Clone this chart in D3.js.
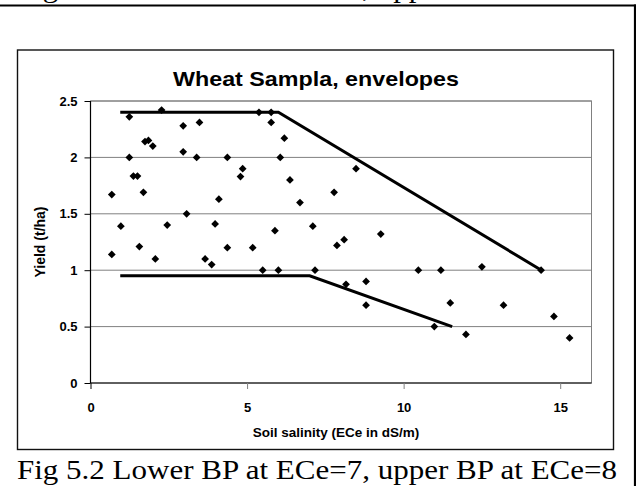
<!DOCTYPE html>
<html><head><meta charset="utf-8">
<script src="https://cdn.jsdelivr.net/npm/d3@7"></script>
<style>html,body{margin:0;padding:0;background:#fff;}svg{display:block;}</style>
</head><body>
<svg id="c" width="636" height="486"></svg>
<script>
// ---- data ----
const chartTitle = "Wheat Sampla, envelopes";
const xTitle = "Soil salinity (ECe in dS/m)";
const yTitle = "Yield (t/ha)";
const caption = "Fig 5.2 Lower BP at ECe=7, upper BP at ECe=8";
const prevCaption = "Fig 5.1 Lower BP at ECe=6, upper BP at ECe=8";
const xTicks = [0, 5, 10, 15];
const yTicks = [0, 0.5, 1, 1.5, 2, 2.5];
const yTickLabels = ["0", "0.5", "1", "1.5", "2", "2.5"];
const sampleX = [0.68,1.24,1.24,1.37,1.50,1.69,1.74,1.85,1.99,2.27,2.96,2.96,3.07,3.39,3.48,4.10,4.37,4.79,4.86,5.38,5.77,5.77,6.19,6.06,6.37,6.69,7.78,8.48,
  0.68,0.97,1.56,2.07,2.45,3.66,3.87,3.98,4.37,5.18,5.50,5.89,6.00,7.10,7.17,7.87,8.10,9.27,8.16,8.80,8.80,10.47,11.19,12.50,11.49,10.98,11.99,13.19,14.39,14.80,15.30];
const sampleY = [1.67,2.36,2.00,1.835,1.835,1.69,2.14,2.15,2.10,2.42,2.28,2.05,1.50,2.00,2.31,1.63,2.00,1.83,1.90,2.40,2.40,2.31,2.17,2.00,1.80,1.60,1.69,1.90,
  1.14,1.39,1.21,1.10,1.40,1.10,1.05,1.41,1.20,1.20,1.00,1.35,1.00,1.39,1.00,1.22,1.27,1.32,0.875,0.90,0.69,1.00,1.00,1.03,0.71,0.50,0.43,0.69,1.00,0.59,0.40];
const upperEnvX = [0.95, 6.0, 14.4];
const upperEnvY = [2.4, 2.4, 1.0];
const lowerEnvX = [0.95, 7.0, 11.55];
const lowerEnvY = [0.95, 0.95, 0.5];

// ---- drawing ----
const svg = d3.select("#c");
const x = d3.scaleLinear().domain([0, 16]).range([90.5, 591.5]);
const y = d3.scaleLinear().domain([0, 2.5]).range([383, 101]);
const sans = "'Liberation Sans', Arial, sans-serif";
const serif = "'Liberation Serif', 'Times New Roman', serif";

// page frame fragments
svg.append("line").attr("x1", 0).attr("x2", 636).attr("y1", 5.5).attr("y2", 5.5)
  .attr("stroke", "#000").attr("stroke-width", 2.2);
svg.append("line").attr("x1", 635).attr("x2", 635).attr("y1", 4.5).attr("y2", 486)
  .attr("stroke", "#000").attr("stroke-width", 2.2);
svg.append("text").attr("x", 17).attr("y", -3).attr("font-family", serif)
  .attr("font-size", 28).attr("textLength", 600).attr("lengthAdjust", "spacingAndGlyphs")
  .text(prevCaption);

// chart box
svg.append("rect").attr("x", 17.5).attr("y", 50).attr("width", 596).attr("height", 399.5)
  .attr("fill", "#fff").attr("stroke", "#111").attr("stroke-width", 1.4);

// title
svg.append("text").attr("x", 316).attr("y", 86).attr("text-anchor", "middle")
  .attr("font-family", sans).attr("font-weight", "bold").attr("font-size", 21)
  .attr("textLength", 286).attr("lengthAdjust", "spacingAndGlyphs")
  .text(chartTitle);

// plot area border (gray)
svg.append("rect").attr("x", x(0)).attr("y", y(2.5)).attr("width", x(16) - x(0)).attr("height", y(0) - y(2.5))
  .attr("fill", "none").attr("stroke", "#808080").attr("stroke-width", 1);

// gridlines
svg.append("g").selectAll("line").data(yTicks.filter(d => d > 0)).join("line")
  .attr("x1", x(0)).attr("x2", x(16)).attr("y1", d => y(d)).attr("y2", d => y(d))
  .attr("stroke", "#808080").attr("stroke-width", 1);

// axes
const yAxis = d3.axisLeft(y).tickValues(yTicks).tickSize(6).tickPadding(7)
  .tickFormat((d, i) => yTickLabels[i]);
const gy = svg.append("g").attr("transform", `translate(${x(0)},0)`).call(yAxis);
const xAxis = d3.axisBottom(x).tickValues(xTicks).tickSize(6).tickPadding(14);
const gx = svg.append("g").attr("transform", `translate(0,${y(0)})`).call(xAxis);
[gx, gy].forEach(g => {
  g.select(".domain").attr("stroke", "#000").attr("stroke-width", 1.2);
  g.selectAll(".tick line").attr("stroke", "#000").attr("stroke-width", 1);
  g.selectAll(".tick text").attr("font-family", sans).attr("font-weight", "bold")
    .attr("font-size", 13).attr("fill", "#000");
});
gx.select(".domain").attr("d", `M${x(0)},0H${x(16)}`);
gx.selectAll(".tick line").attr("stroke", (d) => d === 0 ? "#000" : "#808080");
gy.select(".domain").attr("d", `M0,${y(0)}V${y(2.5)}`);

// axis titles
svg.append("text").attr("x", 336).attr("y", 437).attr("text-anchor", "middle")
  .attr("font-family", sans).attr("font-weight", "bold").attr("font-size", 13.5).text(xTitle);
svg.append("text").attr("transform", "translate(45,242) rotate(-90)").attr("text-anchor", "middle")
  .attr("font-family", sans).attr("font-weight", "bold").attr("font-size", 14).text(yTitle);

// envelope lines
const line = d3.line().x(d => x(d[0])).y(d => y(d[1]));
[[upperEnvX, upperEnvY], [lowerEnvX, lowerEnvY]].forEach(([xs, ys]) => {
  svg.append("path").datum(xs.map((v, i) => [v, ys[i]])).attr("d", line)
    .attr("fill", "none").attr("stroke", "#000").attr("stroke-width", 3)
    .attr("stroke-linejoin", "miter");
});

// points (diamonds)
const diamond = d3.symbol().type(d3.symbolSquare).size(30);
svg.append("g").selectAll("path").data(sampleX.map((v, i) => [v, sampleY[i]])).join("path")
  .attr("d", diamond)
  .attr("transform", d => `translate(${x(d[0])},${y(d[1])}) rotate(45)`)
  .attr("fill", "#000");

// caption
svg.append("text").attr("x", 17).attr("y", 479).attr("font-family", serif)
  .attr("font-size", 28).attr("textLength", 600).attr("lengthAdjust", "spacingAndGlyphs")
  .text(caption);
</script>
</body></html>
